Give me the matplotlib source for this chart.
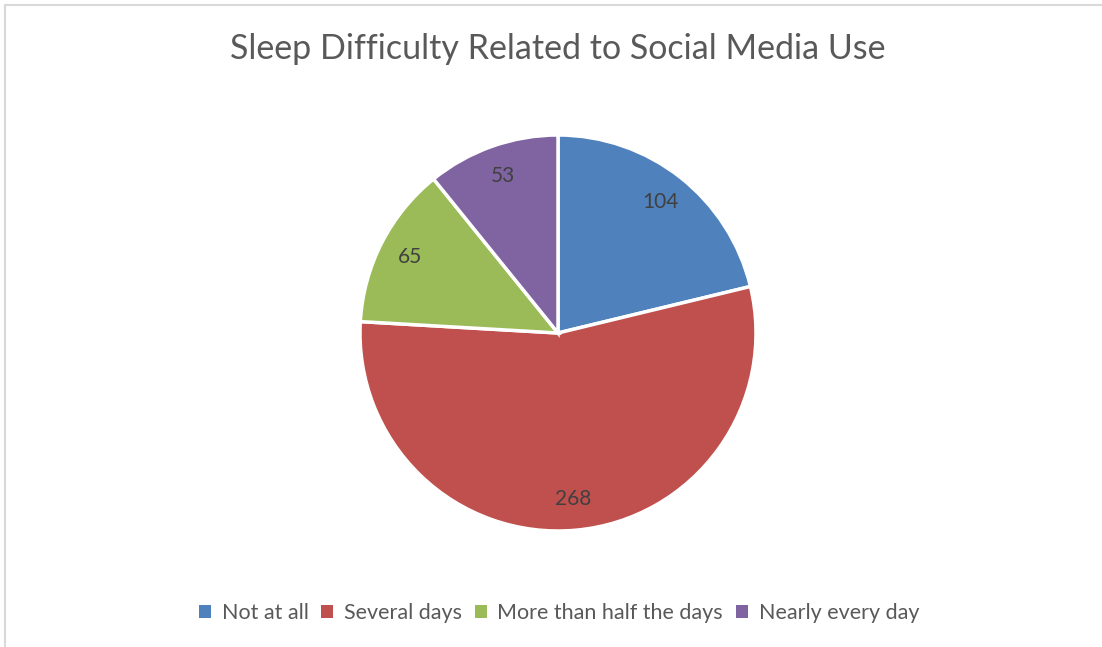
import matplotlib
matplotlib.use('Agg')
import matplotlib.pyplot as plt
from matplotlib.patches import Rectangle

# data
categories = ['Not at all', 'Several days', 'More than half the days', 'Nearly every day']
counts = [104, 268, 65, 53]
colors = ['#4F81BD', '#C0504D', '#9BBB59', '#8064A2']
title = 'Sleep Difficulty Related to Social Media Use'

plt.rcParams['font.family'] = ['Lato', 'DejaVu Sans']
text_color = '#595959'

W, H = 1102, 647
fig = plt.figure(figsize=(W / 100, H / 100), dpi=100)

# light frame (only left and top edges show, like a cropped Excel chart)
fig.patches.append(Rectangle((5 / W, -0.1), 1.2, 1 - 5 / H + 0.1, transform=fig.transFigure,
                             fill=False, edgecolor='#D9D9D9', linewidth=1.5))

# pie axes centred at ~(558, 333) px, radius ~198 px
r = 198
cx, cy = 558, 333
box = 200
ax = fig.add_axes([(cx - box) / W, (H - cy - box) / H, 2 * box / W, 2 * box / H])
wedges, texts, autotexts = ax.pie(
    counts, colors=colors, startangle=90, counterclock=False,
    autopct=lambda p: f'{round(p * sum(counts) / 100):d}', pctdistance=0.84,
    wedgeprops=dict(edgecolor='white', linewidth=2.5),
    textprops=dict(color='#404040', fontsize=15))
ax.set_xlim(-box / r, box / r)
ax.set_ylim(-box / r, box / r)
ax.set_aspect('equal')
ax.axis('off')

fig.text(cx / W, 1 - 49 / H, title, ha='center', va='center', fontsize=24.5, color=text_color)

handles = [Rectangle((0, 0), 1, 1, facecolor=c) for c in colors]
fig.legend(handles, categories, loc='center', bbox_to_anchor=(559 / W, 1 - 613 / H), ncol=4,
           frameon=False, fontsize=15.5, handlelength=0.55, handleheight=0.55, handletextpad=0.5,
           columnspacing=0.6, labelcolor=text_color)

fig.savefig('out.png', dpi=100, facecolor='white')
